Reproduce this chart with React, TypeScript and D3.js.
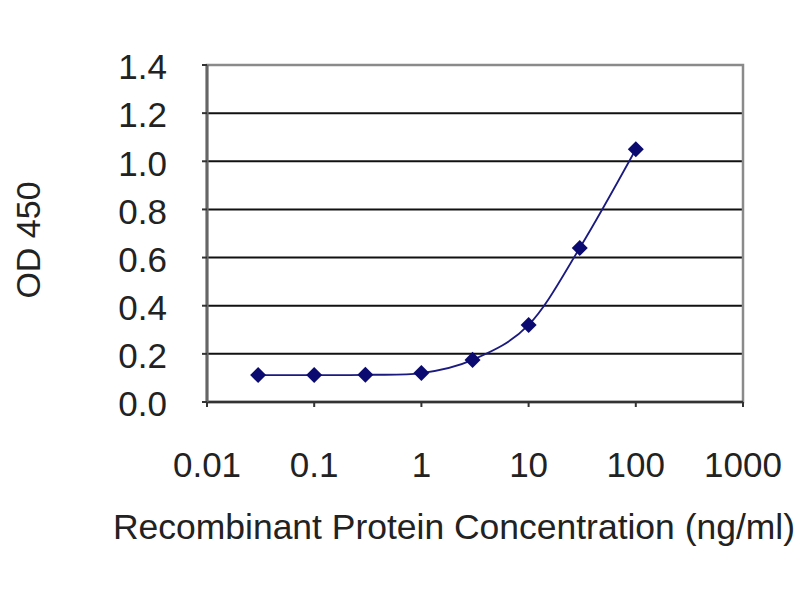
import { useEffect, useRef } from 'react'
import * as d3 from 'd3'

// concentrations (ng/ml) and OD 450 readings
const concentrations = [0.03, 0.1, 0.3, 1, 3, 10, 30, 100]
const odValues = [0.112, 0.112, 0.113, 0.12, 0.175, 0.32, 0.64, 1.05]
const xTicks = [0.01, 0.1, 1, 10, 100, 1000]
const xTickLabels = ['0.01', '0.1', '1', '10', '100', '1000']
const yTicks = [0, 0.2, 0.4, 0.6, 0.8, 1.0, 1.2, 1.4]

export default function App() {
  const svgRef = useRef<SVGSVGElement>(null)

  useEffect(() => {
    if (!svgRef.current) return
    const svg = d3.select(svgRef.current)
    svg.selectAll('*').remove()

    const margin = { top: 65, right: 57, bottom: 198, left: 207 }
    const width = 800
    const height = 600
    const innerW = width - margin.left - margin.right
    const innerH = height - margin.top - margin.bottom
    const font = '"Liberation Sans", Arial, sans-serif'

    const x = d3.scaleLog().domain([0.01, 1000]).range([0, innerW])
    const y = d3.scaleLinear().domain([0, 1.4]).range([innerH, 0])

    const g = svg.append('g').attr('transform', `translate(${margin.left},${margin.top})`)

    // horizontal gridlines
    g.selectAll('.grid')
      .data(yTicks.filter(d => d > 0 && d < 1.4))
      .enter()
      .append('line')
      .attr('x1', 0)
      .attr('x2', innerW)
      .attr('y1', d => y(d))
      .attr('y2', d => y(d))
      .attr('stroke', '#111')
      .attr('stroke-width', 2)

    // plot border
    g.append('rect')
      .attr('x', 0)
      .attr('y', 0)
      .attr('width', innerW)
      .attr('height', innerH)
      .attr('fill', 'none')
      .attr('stroke', '#8a8a8a')
      .attr('stroke-width', 2.5)

    // axis lines
    g.append('line')
      .attr('x1', 0).attr('x2', innerW)
      .attr('y1', innerH).attr('y2', innerH)
      .attr('stroke', '#333').attr('stroke-width', 2.5)
    g.append('line')
      .attr('x1', 0).attr('x2', 0)
      .attr('y1', 0).attr('y2', innerH)
      .attr('stroke', '#666').attr('stroke-width', 3)

    // y ticks + labels
    g.selectAll('.ytick')
      .data(yTicks)
      .enter()
      .append('line')
      .attr('x1', -5).attr('x2', 0)
      .attr('y1', d => y(d)).attr('y2', d => y(d))
      .attr('stroke', '#333').attr('stroke-width', 2)
    g.selectAll('.ylabel')
      .data(yTicks)
      .enter()
      .append('text')
      .attr('x', -40)
      .attr('y', d => y(d) + 2)
      .attr('dy', '0.35em')
      .attr('text-anchor', 'end')
      .attr('font-family', font)
      .attr('font-size', 35)
      .attr('fill', '#222')
      .text(d => d.toFixed(1))

    // x ticks + labels
    g.selectAll('.xtick')
      .data(xTicks)
      .enter()
      .append('line')
      .attr('x1', d => x(d)).attr('x2', d => x(d))
      .attr('y1', innerH).attr('y2', innerH + 5)
      .attr('stroke', '#333').attr('stroke-width', 2)
    g.selectAll('.xlabel')
      .data(xTicks)
      .enter()
      .append('text')
      .attr('x', d => x(d))
      .attr('y', innerH + 63)
      .attr('dy', '0.35em')
      .attr('text-anchor', 'middle')
      .attr('font-family', font)
      .attr('font-size', 35)
      .attr('fill', '#222')
      .text((d, i) => xTickLabels[i])

    // axis titles
    svg.append('text')
      .attr('x', 454)
      .attr('y', 527)
      .attr('dy', '0.35em')
      .attr('text-anchor', 'middle')
      .attr('font-family', font)
      .attr('font-size', 35)
      .attr('fill', '#222')
      .attr('textLength', 682)
      .attr('lengthAdjust', 'spacingAndGlyphs')
      .text('Recombinant Protein Concentration (ng/ml)')
    svg.append('text')
      .attr('transform', 'translate(28,240) rotate(-90)')
      .attr('dy', '0.35em')
      .attr('text-anchor', 'middle')
      .attr('font-family', font)
      .attr('font-size', 34)
      .attr('fill', '#222')
      .text('OD 450')

    const pts: [number, number][] = concentrations.map((c, i) => [c, odValues[i]])

    const line = d3
      .line<[number, number]>()
      .x(d => x(d[0]))
      .y(d => y(d[1]))
      .curve(d3.curveCardinal.tension(0))

    g.append('path')
      .datum(pts)
      .attr('d', line)
      .attr('fill', 'none')
      .attr('stroke', '#1a1a80')
      .attr('stroke-width', 1.8)

    const diamond = d3.symbol().type(d3.symbolSquare).size(128)
    g.selectAll('.pt')
      .data(pts)
      .enter()
      .append('path')
      .attr('d', diamond)
      .attr('transform', d => `translate(${x(d[0])},${y(d[1])}) rotate(45)`)
      .attr('fill', '#0a0a70')
  }, [])

  return (
    <svg
      ref={svgRef}
      width={800}
      height={600}
      style={{ position: 'absolute', left: 0, top: 0, background: '#fff' }}
    />
  )
}
